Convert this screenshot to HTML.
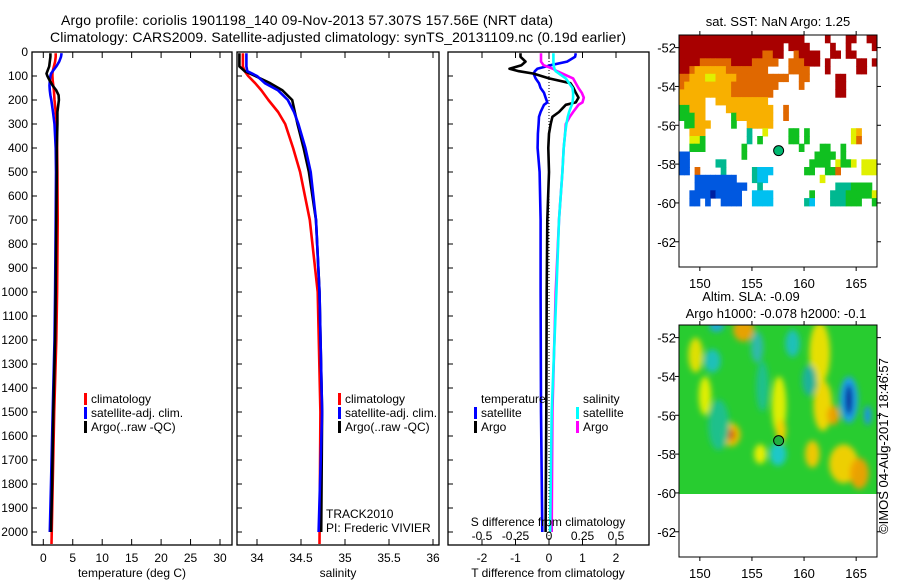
<!DOCTYPE html>
<html><head><meta charset="utf-8"><style>
body{margin:0;background:#fff;}
svg text{font-family:"Liberation Sans",sans-serif;fill:#000;}
</style></head><body>
<svg id="c" width="900" height="580" xmlns="http://www.w3.org/2000/svg">
<defs>
<filter id="blur" x="-50%" y="-50%" width="200%" height="200%"><feGaussianBlur stdDeviation="3"/></filter>
<clipPath id="clipSsh"><rect x="679" y="325" width="198" height="169"/></clipPath>
</defs>
<text x="61" y="25" font-size="14" textLength="492">Argo profile: coriolis 1901198_140 09-Nov-2013 57.307S 157.56E (NRT data)</text>
<text x="50" y="42" font-size="14" textLength="576">Climatology: CARS2009. Satellite-adjusted climatology: synTS_20131109.nc (0.19d earlier)</text>
<g id="g"></g>
</svg>
<script>
// ---- data ----
const depthT = [5,20,40,60,80,90,100,120,140,160,180,200,250,300,400,500,700,1000,1200,1500,1800,2000];
const climTdepth = [5,20,40,60,80,90,100,120,140,160,180,200,250,300,400,500,700,1000,1200,1500,1800,2050];
const argoT = [1.2,1.2,1.1,1.0,0.7,0.55,0.7,1.1,1.6,2.2,2.6,2.65,2.4,2.4,2.3,2.3,2.2,2.1,2.0,1.7,1.5,1.3];
const climT = [2.1,2.1,2.0,1.8,1.6,1.55,1.55,1.6,1.7,1.8,1.85,1.9,2.1,2.3,2.35,2.4,2.45,2.35,2.2,1.85,1.6,1.4];
const satT = [3.1,3.0,2.7,2.2,1.6,1.3,1.2,1.1,1.05,1.1,1.2,1.35,1.65,1.9,2.1,2.15,2.1,2.0,1.9,1.6,1.3,1.1];
const depthS = [5,30,60,80,100,130,160,200,250,300,400,500,700,1000,1500,2000];
const climSdepth = [5,30,60,80,100,130,160,200,250,300,400,500,700,1000,1500,2050];
const argoS = [33.80,33.80,33.80,33.86,33.98,34.15,34.29,34.40,34.43,34.46,34.53,34.59,34.67,34.71,34.74,34.73];
const satS = [33.88,33.88,33.88,33.89,34.00,34.09,34.24,34.35,34.42,34.47,34.55,34.61,34.67,34.71,34.74,34.70];
const climS = [33.84,33.84,33.84,33.86,33.90,33.98,34.05,34.13,34.24,34.32,34.41,34.49,34.60,34.69,34.72,34.71];
const depthD = [5,20,40,55,70,80,90,110,130,150,170,190,210,220,250,270,300,340,400,500,700,1000,1500,2000];
const argoDT = [-0.85,-0.85,-0.7,-0.82,-1.18,-0.9,-0.46,0.0,0.64,0.73,0.8,0.88,0.8,0.5,0.3,0.1,0.05,0,-0.02,0,-0.05,-0.07,-0.08,-0.1];
const satDT = [0.8,0.78,0.54,0.05,-0.35,-0.42,-0.46,-0.4,-0.3,-0.25,-0.15,-0.1,-0.05,-0.15,-0.25,-0.3,-0.31,-0.33,-0.34,-0.28,-0.25,-0.25,-0.24,-0.2];
const argoDS = [-0.06,-0.06,-0.06,-0.04,0.03,0.06,0.1,0.18,0.2,0.22,0.245,0.26,0.25,0.22,0.18,0.155,0.125,0.12,0.11,0.1,0.075,0.05,0.025,0.02];
const satDS = [0.033,0.033,0.033,0.035,0.04,0.05,0.075,0.125,0.15,0.175,0.18,0.18,0.175,0.17,0.15,0.14,0.13,0.12,0.11,0.1,0.075,0.055,0.02,0.008];
const depthTicks = [0,100,200,300,400,500,600,700,800,900,1000,1100,1200,1300,1400,1500,1600,1700,1800,1900,2000];
const tempTicks = [0,5,10,15,20,25,30];
const salTicks = [34,34.5,35,35.5,36];
const salTickLabels = ["34","34.5","35","35.5","36"];
const dTTicks = [-2,-1,0,1,2];
const dSTicks = [-0.5,-0.25,0,0.25,0.5];
const dSTickLabels = ["-0.5","-0.25","0","0.25","0.5"];
const latTicks = [-52,-54,-56,-58,-60,-62];
const lonTicks = [150,155,160,165];
const argoLon = 157.56, argoLat = -57.307;
const sstRows = [
"rrrrrrrrrrrrrrrrrrrrrrrr....r...rr..rr",
"rrrrrrrrrrrrrrrrrrrr.rrrr....r..r....r",
"rrrrrrrrrrrrrrrroorr..orrrr..rr.rr....",
"rrrroooooorrrrooooo..ooorrr.r.....rr.r",
"rroyyyyyyoooooooo....oooo...r.....rr..",
"ooyyyYYyyyyoooooooooo..oo.....rr......",
"oyyyyyyyyyooooooooo....o......rr......",
"yyyyyyyyyyoooooooo............rr......",
"yyyyy..yyyyyyyyyy.....................",
"ggyyy....yyyyyyyyy..o.................",
"gggyy.....gyyyyyyy..o.................",
".ggyyy....g..yyyyy....................",
"..yyy........t..Y....gg.g........Yy...",
"..YYg........t.g.....gg.g........Yo...",
"..ggg.......g..........g...gg..g......",
"bb..........g.............gggg.g......",
"bb.....tt................gggg.YggY.YYY",
"bb.o....t.....tccc......gg..ggo....YYY",
"...bbbbbbbb...tcc..........Y..........",
"...bbbbbbbbbb..t..............tttgggg.",
"..bbbbBbbbbb..cccc.......g...tttgggggY",
"..bb.b..bbbb..cccc......tc...tttggg..g"];
const sstColors = {r:"#a80000",o:"#e06800",y:"#f8b000",Y:"#e0f000",g:"#10c020",t:"#00b890",c:"#00c0f0",b:"#0058e0",B:"#0020a0"};
const sshLon = [154.2,151.6,149.6,151.2,158.9,157.6,157.8,161.5,161.8,164.3,164.3,166.1,153.0,153.0,160.8,163.8,165.3,157.5,155.8,162.8,151.8,156.0,150.5,160.5,155.5];
const sshLat = [-51.6,-51.4,-52.9,-53.2,-52.3,-55.5,-56.8,-52.8,-55.5,-55.2,-55.2,-56.0,-57.0,-57.0,-58.0,-58.5,-59.0,-58.0,-58.0,-56.0,-56.5,-54.5,-55.0,-54.2,-52.5];
const sshRx = [1.0,0.7,0.7,0.8,0.7,0.7,0.5,1.0,0.9,0.9,0.35,0.35,0.9,0.4,0.7,1.4,0.9,0.8,0.6,0.6,1.0,0.6,0.6,0.7,0.6];
const sshRy = [0.6,0.3,0.9,0.6,0.7,1.5,0.6,1.6,1.3,1.2,0.8,0.5,0.6,0.3,0.7,1.0,0.8,0.6,0.5,0.5,1.3,1.3,1.0,0.8,0.8];
const sshCol = ["#f0a000","#20a8e0","#e8e000","#20c0c0","#20c0c0","#e8f000","#f0d000","#f0e000","#f8d800","#20a0f0","#001090","#2090f0","#f0c000","#d06000","#f8c800","#f8d000","#f0a000","#20c8d0","#f0f000","#f0a000","#20c090","#20c090","#e8f000","#20b0a0","#30b8b0"];

// ---- helpers ----
const NS="http://www.w3.org/2000/svg";
const G=document.getElementById('g');
function el(tag,attrs,parent){const e=document.createElementNS(NS,tag);for(const k in attrs)e.setAttribute(k,attrs[k]);(parent||G).appendChild(e);return e;}
function txt(s,x,y,size,anchor,parent){const t=el('text',{x:x,y:y,'font-size':size,'text-anchor':anchor||'start'},parent);t.textContent=s;return t;}
const TOP=52,BOT=545;
function yD(d){return 52+0.24*d;}
function lin(d0,d1,r0,r1){return v=>r0+(v-d0)*(r1-r0)/(d1-d0);}
const xT=lin(0,30,43.3,220);
const xS=lin(34,36,257,433);
const xDT=lin(0,1,549,582.5);
const xDS=v=>xDT(v*4);

function frame(x0,x1,name){
  const r=el('rect',{x:x0,y:TOP,width:x1-x0,height:BOT-TOP,fill:'none',stroke:'#000','stroke-width':1.3});
  
  
  depthTicks.forEach(d=>{el('line',{x1:x0,x2:x0+5,y1:yD(d),y2:yD(d),stroke:'#000'});});
}
function xticks(vals,labels,sc,name){
  const g=el('g',{});
  
  
  vals.forEach((v,i)=>{const x=sc(v);
    el('line',{x1:x,x2:x,y1:TOP,y2:TOP+6,stroke:'#000'},g);
    el('line',{x1:x,x2:x,y1:BOT,y2:BOT-6,stroke:'#000'},g);
    txt(labels[i],x,562,12,'middle',g);});
}
function series(depths,vals,sc,color,name,w){
  const pts=depths.map((d,i)=>sc(vals[i]).toFixed(1)+','+yD(d).toFixed(1)).join(' ');
  const p=el('polyline',{points:pts,fill:'none',stroke:color,'stroke-width':w||2.6,'stroke-linejoin':'round'});
  
  
}
function legend(x,y,color,label,name){
  const g=el('g',{});
  
  
  el('rect',{x:x,y:y-10,width:3,height:12,fill:color},g);
  txt(label,x+7,y,12,'start',g);
}

const dl=el('g',{});


depthTicks.forEach(d=>txt(String(d),28,yD(d)+4,12,'end',dl));

frame(32,232,'temperature-panel');
xticks(tempTicks,tempTicks.map(String),xT,'temperature-x-axis');
series(climTdepth,climT,xT,'#ff0000','temp-climatology-line');
series(depthT,satT,xT,'#0000ff','temp-satellite-line');
series(depthT,argoT,xT,'#000000','temp-argo-line');
txt('temperature (deg C)',132,577,12,'middle');
legend(84,403,'#ff0000','climatology','legend-climatology');
legend(84,417,'#0000ff','satellite-adj. clim.','legend-satellite');
legend(84,431,'#000000','Argo(..raw -QC)','legend-argo');

frame(237,439,'salinity-panel');
xticks(salTicks,salTickLabels,xS,'salinity-x-axis');
series(climSdepth,climS,xS,'#ff0000','sal-climatology-line');
series(depthS,argoS,xS,'#000000','sal-argo-line');
series(depthS,satS,xS,'#0000ff','sal-satellite-line');
txt('salinity',338,577,12,'middle');
legend(338,403,'#ff0000','climatology','legend2-climatology');
legend(338,417,'#0000ff','satellite-adj. clim.','legend2-satellite');
legend(338,431,'#000000','Argo(..raw -QC)','legend2-argo');
txt('TRACK2010',326,518,12);
txt('PI: Frederic VIVIER',326,532,12);

frame(448,649,'difference-panel');
xticks(dTTicks,dTTicks.map(String),xDT,'t-difference-axis');
const zl=el('line',{x1:xDT(0),x2:xDT(0),y1:TOP,y2:BOT,stroke:'#000','stroke-dasharray':'1,2'});


series(depthD,satDT,xDT,'#0000ff','t-diff-satellite-line');
series(depthD,argoDT,xDT,'#000000','t-diff-argo-line');
series(depthD,argoDS,xDS,'#ff00ff','s-diff-argo-line');
series(depthD,satDS,xDS,'#00ffff','s-diff-satellite-line');
txt('T difference from climatology',548,577,12,'middle');
txt('S difference from climatology',548,526,12,'middle');
const sl=el('g',{});


dSTicks.forEach((v,i)=>txt(dSTickLabels[i],xDS(v),540,12,'middle',sl));
txt('temperature',481,403,12);
txt('salinity',583,403,12);
legend(474,417,'#0000ff','satellite','legend3-t-satellite');
legend(474,431,'#000000','Argo','legend3-t-argo');
legend(576,417,'#00ffff','satellite','legend3-s-satellite');
legend(576,431,'#ff00ff','Argo','legend3-s-argo');

const MX0=679,MX1=877;
const xLon=lin(148,167,679,877);
function mapAxes(top,bot,name){
  const yLat=lin(-51.35,-63.3,top,bot);
  const g=el('g',{});
  
  
  el('rect',{x:MX0,y:top,width:MX1-MX0,height:bot-top,fill:'none',stroke:'#000','stroke-width':1},g);
  latTicks.forEach(l=>{const y=yLat(l);
    el('line',{x1:MX0-4,x2:MX0,y1:y,y2:y,stroke:'#000'},g);
    el('line',{x1:MX1,x2:MX1+4,y1:y,y2:y,stroke:'#000'},g);
    txt(String(l),676,y+5,13,'end',g);});
  lonTicks.forEach(l=>{const x=xLon(l);
    el('line',{x1:x,x2:x,y1:bot,y2:bot+4,stroke:'#000'},g);
    el('line',{x1:x,x2:x,y1:top,y2:top-4,stroke:'#000'},g);
    txt(String(l),x,bot+21,13,'middle',g);});
  return yLat;
}
const yLat1=lin(-51.35,-63.3,35,267);
const sstG=el('g',{});


sstRows.forEach((row,i)=>{for(let j=0;j<38;j++){const ch=row[j];if(!ch||ch==='.')continue;
  const x=xLon(148+0.5*j),y=yLat1(-51.35-0.4*i);
  el('rect',{x:x.toFixed(1),y:y.toFixed(1),width:(xLon(148.5)-xLon(148)+0.5).toFixed(1),height:(yLat1(-51.75)-yLat1(-51.35)+0.5).toFixed(1),fill:sstColors[ch]},sstG);}});
mapAxes(35,267,'sst-map-axes');
const m1=el('circle',{cx:xLon(argoLon),cy:yLat1(argoLat),r:5,fill:'#00b870',stroke:'#000','stroke-width':1});


txt('sat. SST: NaN Argo: 1.25',778,26,13,'middle');

const yLat2=lin(-51.35,-63.3,325,557);
const sshG=el('g',{'clip-path':'url(#clipSsh)'});


el('rect',{x:679,y:325,width:198,height:169,fill:'#28cc30'},sshG);
const bl=el('g',{filter:'url(#blur)'},sshG);
sshLon.forEach((lo,i)=>{el('ellipse',{cx:xLon(lo),cy:yLat2(sshLat[i]),rx:sshRx[i]*10.4,ry:sshRy[i]*19.4,fill:sshCol[i],opacity:0.95},bl);});
mapAxes(325,557,'ssh-map-axes');
const m2=el('circle',{cx:xLon(argoLon),cy:yLat2(argoLat),r:5,fill:'#20b040',stroke:'#000','stroke-width':1});


txt('Altim. SLA: -0.09',751,301,13,'middle');
txt('Argo h1000: -0.078 h2000: -0.1',776,318,13,'middle');
const cr=txt('©IMOS 04-Aug-2017 18:46:57',0,0,13,'middle');
cr.setAttribute('transform','translate(888,446) rotate(-90)');


</script>
</body></html>
